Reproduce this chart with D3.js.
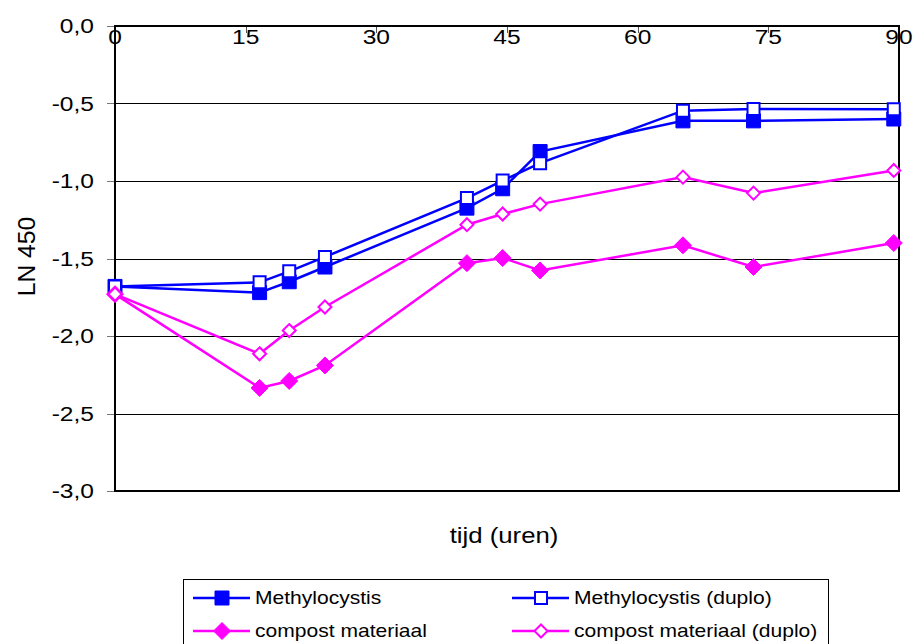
<!DOCTYPE html>
<html>
<head>
<meta charset="utf-8">
<script src="https://cdn.jsdelivr.net/npm/d3@7"></script>
<style>
  body { margin: 0; background: #fff; }
  svg { font-family: "Liberation Sans", Arial, sans-serif; }
</style>
</head>
<body>
<svg id="chart" width="918" height="644"></svg>
<script>
// tijd (uren)
const hours = [0, 16.6, 20, 24.1, 40.4, 44.5, 48.8, 65.2, 73.3, 89.4];

const methylocystis = [-1.68, -1.72, -1.65, -1.555, -1.175, -1.05, -0.81, -0.612, -0.612, -0.60];
const methylocystisDuplo = [-1.68, -1.654, -1.583, -1.49, -1.11, -0.997, -0.885, -0.546, -0.535, -0.537];
const compost = [-1.73, -2.335, -2.29, -2.19, -1.53, -1.497, -1.577, -1.415, -1.555, -1.40];
const compostDuplo = [-1.73, -2.115, -1.965, -1.813, -1.282, -1.213, -1.149, -0.975, -1.078, -0.932];

const xTicks = [0, 15, 30, 45, 60, 75, 90];
const yTicks = [0, -0.5, -1, -1.5, -2, -2.5, -3];

const series = [
    { name: "Methylocystis", values: methylocystis, color: "#0000ff", shape: "square", filled: true },
    { name: "Methylocystis (duplo)", values: methylocystisDuplo, color: "#0000ff", shape: "square", filled: false },
    { name: "compost materiaal", values: compost, color: "#ff00ff", shape: "diamond", filled: true },
    { name: "compost materiaal (duplo)", values: compostDuplo, color: "#ff00ff", shape: "diamond", filled: false }
];

const svg = d3.select("#chart");
const plotLeft = 115, plotRight = 899, plotTop = 26, plotBottom = 491;
// the original export is a bit wider than tall, text looks stretched
const stretch = 1.17;

const x = d3.scaleLinear().domain([0, 90]).range([plotLeft, plotRight]);
const y = d3.scaleLinear().domain([0, -3]).range([plotTop, plotBottom]);

function label(g, tx, ty, str, size, anchor) {
    return g.append("text")
        .attr("transform", "translate(" + tx + "," + ty + ") scale(" + stretch + ",1)")
        .attr("dy", "0.35em")
        .attr("text-anchor", anchor)
        .attr("font-size", size)
        .text(str);
}

// horizontal gridlines
svg.append("g")
    .selectAll("line")
    .data(yTicks)
    .join("line")
    .attr("x1", plotLeft)
    .attr("x2", plotRight)
    .attr("y1", d => Math.round(y(d)) + 0.5)
    .attr("y2", d => Math.round(y(d)) + 0.5)
    .attr("stroke", "#000")
    .attr("stroke-width", 1);

// y tick marks
svg.append("g")
    .selectAll("line")
    .data(yTicks)
    .join("line")
    .attr("x1", plotLeft - 8)
    .attr("x2", plotLeft)
    .attr("y1", d => Math.round(y(d)) + 0.5)
    .attr("y2", d => Math.round(y(d)) + 0.5)
    .attr("stroke", "#777")
    .attr("stroke-width", 1);

// x tick marks (hang down from the top axis)
svg.append("g")
    .selectAll("line")
    .data(xTicks)
    .join("line")
    .attr("x1", d => Math.round(x(d)) + 0.5)
    .attr("x2", d => Math.round(x(d)) + 0.5)
    .attr("y1", plotTop)
    .attr("y2", plotTop + 7)
    .attr("stroke", "#555")
    .attr("stroke-width", 1);

const yLabels = svg.append("g");
yTicks.forEach(d => {
    label(yLabels, 94, y(d), d3.format(".1f")(d).replace(".", ",").replace("−", "-"), 21, "end");
});

// plot frame
svg.append("rect")
    .attr("x", plotLeft)
    .attr("y", plotTop)
    .attr("width", plotRight - plotLeft)
    .attr("height", plotBottom - plotTop)
    .attr("fill", "none")
    .attr("stroke", "#000")
    .attr("stroke-width", 2);

// x tick labels (axis at top, crossing at 0)
const xLabels = svg.append("g");
xTicks.forEach(d => label(xLabels, x(d), 37, d, 21, "middle"));

// axis titles
svg.append("text")
    .attr("transform", "translate(27," + (y(-1.5) - 2) + ") rotate(-90) scale(1.12,1.1)")
    .attr("dy", "0.35em")
    .attr("text-anchor", "middle")
    .attr("font-size", 22)
    .text("LN 450");

label(svg, (plotLeft + plotRight) / 2 - 3, 535, "tijd (uren)", 22, "middle");

function markerPath(s) {
    const h = s.filled ? (s.shape === "square" ? 7 : 8.5) : (s.shape === "square" ? 6 : 6.5);
    if (s.shape === "square") {
        return "M" + (-h) + "," + (-h) + "H" + h + "V" + h + "H" + (-h) + "Z";
    }
    return "M0," + (-h) + "L" + h + ",0L0," + h + "L" + (-h) + ",0Z";
}

function drawMarker(g, s, cx, cy) {
    g.append("path")
        .attr("transform", "translate(" + cx + "," + cy + ")")
        .attr("d", markerPath(s))
        .attr("fill", s.filled ? s.color : "#fff")
        .attr("stroke", s.color)
        .attr("stroke-width", s.filled ? 1 : 2);
}

const line = d3.line()
    .x((d, i) => x(hours[i]))
    .y(d => y(d));

const plot = svg.append("g");
series.forEach(s => {
    plot.append("path")
        .attr("d", line(s.values))
        .attr("fill", "none")
        .attr("stroke", s.color)
        .attr("stroke-width", 2.5);
});
series.forEach(s => {
    s.values.forEach((v, i) => drawMarker(plot, s, x(hours[i]), y(v)));
});

// legend
const legend = svg.append("g");
legend.append("rect")
    .attr("x", 183.5)
    .attr("y", 579.5)
    .attr("width", 645)
    .attr("height", 70)
    .attr("fill", "#fff")
    .attr("stroke", "#000")
    .attr("stroke-width", 1);

const legendPos = [
    { lx: 193, ly: 598 },
    { lx: 512, ly: 598 },
    { lx: 193, ly: 631 },
    { lx: 512, ly: 631 }
];
series.forEach((s, i) => {
    const p = legendPos[i];
    legend.append("line")
        .attr("x1", p.lx)
        .attr("x2", p.lx + 57)
        .attr("y1", p.ly)
        .attr("y2", p.ly)
        .attr("stroke", s.color)
        .attr("stroke-width", 2.5);
    drawMarker(legend, s, p.lx + 29, p.ly);
    label(legend, p.lx + 62, p.ly, s.name, 18, "start");
});
</script>
</body>
</html>
